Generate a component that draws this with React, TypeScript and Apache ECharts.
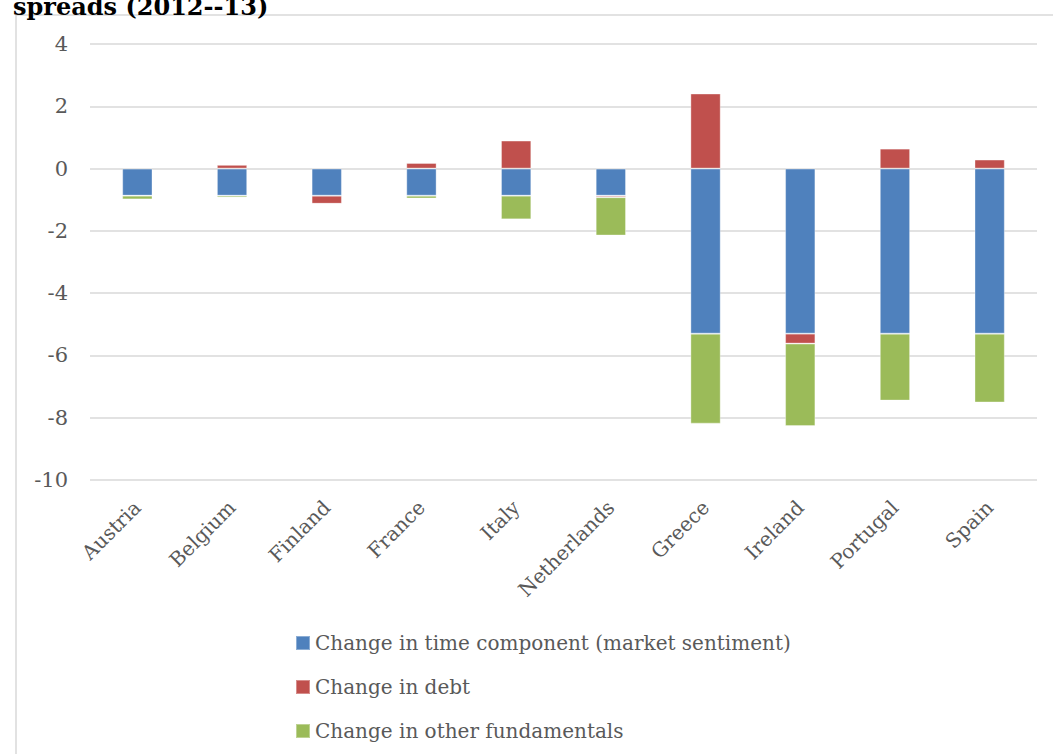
import React, { useEffect, useRef } from "react";
import * as echarts from "echarts";

const categories = ["Austria", "Belgium", "Finland", "France", "Italy", "Netherlands", "Greece", "Ireland", "Portugal", "Spain"];
const timeComponent = [-0.87, -0.87, -0.87, -0.87, -0.87, -0.87, -5.3, -5.3, -5.3, -5.3];
const debtChange = [0.0, 0.12, -0.26, 0.18, 0.9, -0.05, 2.41, -0.32, 0.64, 0.29];
const otherFundamentals = [-0.12, -0.06, 0.0, -0.09, -0.76, -1.23, -2.89, -2.65, -2.15, -2.21];
const seriesNames = [
  "Change in time component (market sentiment)",
  "Change in debt",
  "Change in other fundamentals",
];
const titleText = "spreads (2012--13)";

const FONT = "DejaVu Serif";

export default function App() {
  const ref = useRef<HTMLDivElement>(null);
  useEffect(() => {
    if (!ref.current) return;
    const chart = echarts.init(ref.current, null, { renderer: "svg" });
    const barCommon = {
      type: "bar" as const,
      stack: "total",
      barWidth: "32%",
      itemStyle: { borderColor: "rgba(255,255,255,0.35)", borderWidth: 1 },
    };
    chart.setOption({
      animation: false,
      backgroundColor: "#ffffff",
      graphic: [
        {
          type: "rect",
          shape: { x: 16, y: 15, width: 1100, height: 800 },
          style: { fill: "none", stroke: "#d9d9d9", lineWidth: 1.5 },
          silent: true,
        },
        {
          type: "text",
          x: 13,
          y: 18,
          style: {
            text: titleText,
            font: `bold 24px '${FONT}'`,
            fill: "#000000",
            verticalAlign: "bottom",
            align: "left",
          },
        },
      ],
      grid: { left: 90, right: 16, top: 44, bottom: 274, containLabel: false },
      xAxis: {
        type: "category",
        data: categories,
        position: "bottom",
        axisLine: { show: false, onZero: false },
        axisTick: { show: false },
        axisLabel: {
          rotate: 45,
          interval: 0,
          margin: 24,
          color: "#595959",
          fontFamily: FONT,
          fontSize: 20,
        },
        splitLine: { show: false },
      },
      yAxis: {
        type: "value",
        min: -10,
        max: 4,
        interval: 2,
        axisLine: { show: false },
        axisTick: { show: false },
        axisLabel: {
          color: "#595959",
          fontFamily: FONT,
          fontSize: 21,
          margin: 22,
        },
        splitLine: { lineStyle: { color: "#d9d9d9", width: 1.5 } },
      },
      legend: {
        orient: "vertical",
        left: 290,
        top: 628,
        itemWidth: 14,
        itemHeight: 14,
        itemGap: 24,
        icon: "rect",
        textStyle: { color: "#595959", fontFamily: FONT, fontSize: 20 },
        data: seriesNames,
      },
      series: [
        { ...barCommon, name: seriesNames[0], data: timeComponent, itemStyle: { ...barCommon.itemStyle, color: "#4F81BD" } },
        { ...barCommon, name: seriesNames[1], data: debtChange, itemStyle: { ...barCommon.itemStyle, color: "#C0504D" } },
        { ...barCommon, name: seriesNames[2], data: otherFundamentals, itemStyle: { ...barCommon.itemStyle, color: "#9BBB59" } },
      ],
    });
    return () => chart.dispose();
  }, []);
  return (
    <div
      ref={ref}
      style={{ position: "absolute", left: 0, top: 0, width: 1053, height: 754 }}
    />
  );
}
